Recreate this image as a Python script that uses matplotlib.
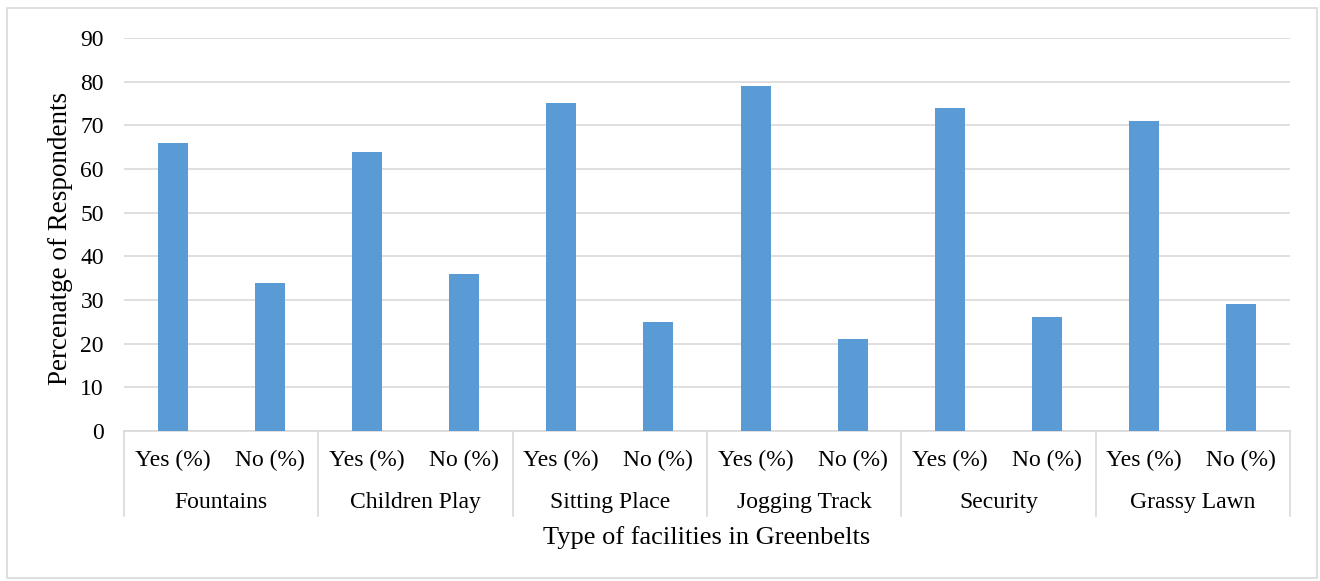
import matplotlib.pyplot as plt
from matplotlib.patches import Rectangle
import numpy as np

plt.rcParams['font.family'] = ['Liberation Serif', 'DejaVu Serif']

groups = ["Fountains", "Children Play", "Sitting Place", "Jogging Track", "Security", "Grassy Lawn"]
answers = ["Yes (%)", "No (%)"]
values = [66, 34, 64, 36, 75, 25, 79, 21, 74, 26, 71, 29]

fig = plt.figure(figsize=(13.2, 5.81), dpi=100)
ax = fig.add_axes([124 / 1320, 1 - 431 / 581, (1290 - 124) / 1320, (431 - 38) / 581])

x = np.arange(len(values))
ax.bar(x, values, width=0.31, color='#5b9bd5', zorder=3)

ax.set_xlim(-0.5, len(values) - 0.5)
ax.set_ylim(0, 90)
ax.set_yticks(range(0, 91, 10))
ax.tick_params(axis='y', length=0, labelsize=17, pad=14.4)
ax.grid(axis='y', color='#d9d9d9', linewidth=1.2, zorder=0)
for s in ['top', 'right', 'left']:
    ax.spines[s].set_visible(False)
ax.spines['bottom'].set_color('#d9d9d9')
ax.spines['bottom'].set_linewidth(1.2)
ax.set_xticks([])

# two-level category labels
trans = ax.get_xaxis_transform()
for i, v in enumerate(values):
    ax.text(i, -0.074, answers[i % 2], transform=trans, ha='center', va='center', fontsize=17)
for g, name in enumerate(groups):
    ax.text(2 * g + 0.5, -0.182, name, transform=trans, ha='center', va='center', fontsize=17)
for b in range(len(groups) + 1):
    ax.plot([2 * b - 0.5, 2 * b - 0.5], [0, -0.216], transform=trans, color='#d9d9d9',
            linewidth=1.2, clip_on=False)

ax.set_ylabel('Percenatge of Respondents', fontsize=19.5)
ax.yaxis.set_label_coords(-0.044, 0.49)
fig.text((124 + 1290) / 2 / 1320, 1 - 538 / 581, 'Type of facilities in Greenbelts',
         ha='center', va='center', fontsize=19)

fig.patches.append(Rectangle((7 / 1320, 3 / 581), 1310 / 1320, 570 / 581, transform=fig.transFigure,
                             fill=False, edgecolor='#d9d9d9', linewidth=1.2))

fig.savefig('out.png', dpi=100)
